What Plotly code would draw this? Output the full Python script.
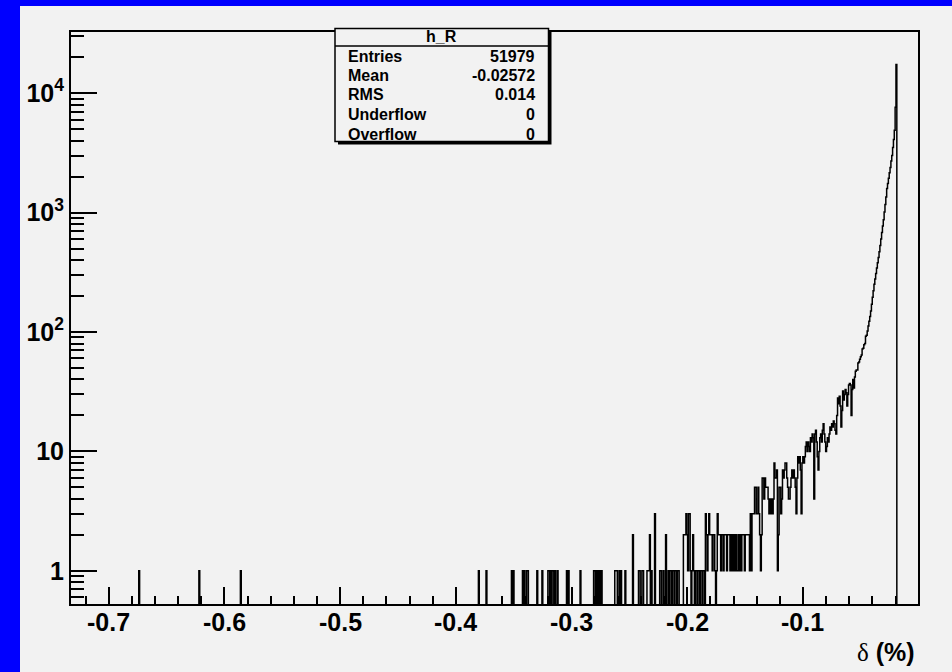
import numpy as np
import plotly.graph_objects as go

# ---------------- histogram definition (h_R) ----------------
x_min = -0.7326
x_max = -0.0006
n_bins = 1000

# isolated low-count bins on the left: (delta value, entries)
sparse_delta = [-0.6738, -0.6216, -0.5856, -0.3798, -0.3737, -0.3517, -0.3504,
                -0.3418, -0.3405, -0.3387, -0.3374, -0.3297, -0.3256, -0.3201,
                -0.3193, -0.3180, -0.3167, -0.3154, -0.3141, -0.3118, -0.3037,
                -0.3029, -0.2925, -0.2804, -0.2795, -0.2782, -0.2769, -0.2756,
                -0.2743, -0.2622, -0.2614, -0.2605, -0.2588, -0.2570, -0.2536,
                -0.2467, -0.2415, -0.2407, -0.2390, -0.2381, -0.2346, -0.2338,
                -0.2329, -0.2320, -0.2311, -0.2277, -0.2234, -0.2225, -0.2208,
                -0.2182]
sparse_counts = [1, 1, 1, 1, 1, 1, 1,
                 1, 1, 1, 1, 1, 1, 1,
                 1, 1, 1, 1, 1, 1, 1,
                 1, 1, 1, 1, 1, 1, 1,
                 1, 1, 1, 1, 1, 1, 1,
                 2, 1, 1, 1, 1, 1, 1,
                 1, 2, 1, 3, 1, 1, 1,
                 2]

# consecutive bin contents of the tail, starting at delta = tail_start
tail_start = -0.2165
tail_counts = [
    1, 0, 1, 1, 0, 1, 1, 0, 1, 1, 0, 1, 1, 0, 0, 0, 0, 0,
    2, 2, 2, 3, 2, 1, 3, 3,
    1, 0, 1, 2, 1, 0, 1, 1, 0, 1, 1, 0, 1, 1, 0, 1, 1, 0,
    3, 2, 1, 2, 3, 2, 2, 2, 1, 2, 2, 1, 0, 1, 3, 2, 2, 2, 1, 2,
    2, 1, 2, 2, 2, 1, 2, 2, 2, 1, 2, 1, 2, 1, 2, 1, 2, 1, 1, 2, 1, 2, 1, 2, 2, 2, 1, 2, 2, 2, 2, 2, 1,
    3, 1, 3, 3, 3, 5, 5, 3, 3, 5, 3, 2, 1, 2,
    6, 6, 4, 6, 5, 5, 5, 4, 3, 4, 3, 4, 3, 4, 8, 6, 6, 7, 1, 2,
    5, 5, 3, 4, 7, 6, 7, 8, 8, 6, 5, 4,
    4, 5, 6, 7, 6, 7, 6, 5, 3, 6, 9, 8, 9, 7, 3, 8, 9, 8,
    9, 11, 12, 10, 12, 11, 10, 13, 12, 14, 13, 4, 14, 15, 12, 9, 7, 10,
    13, 14, 12, 15, 17, 14, 12, 10, 11, 13, 12, 14, 16, 15, 17, 16, 18, 17,
    15, 14, 20, 28, 25, 29, 24, 16, 22, 32, 27, 30, 33, 31, 24, 30, 36, 37,
    36, 20, 33, 40, 34, 42, 47, 48, 48, 55, 56, 59, 62, 64, 72, 73, 78, 80,
    92, 94, 102, 112, 123, 135, 150, 171, 195, 221, 251, 278, 309, 343, 380,
    420, 470, 530, 600, 680, 770, 870, 1010, 1170, 1350, 1590, 1750, 1940,
    2150, 2380, 2700, 3000, 3500, 4100, 4900, 7600, 17400,
]

# axis tick labels
x_tickvals = [-0.7, -0.6, -0.5, -0.4, -0.3, -0.2, -0.1]
x_ticktext = ["-0.7", "-0.6", "-0.5", "-0.4", "-0.3", "-0.2", "-0.1"]
y_tickvals = [1, 10, 100, 1000, 10000]
y_ticktext = ["1", "10", "10<sup>2</sup>", "10<sup>3</sup>", "10<sup>4</sup>"]
x_title = '<span style="font-family:\'Liberation Serif\';font-weight:normal">δ</span> <b>(%)</b>'

# statistics box
stat_title = "h_R"
stat_labels = ["Entries", "Mean", "RMS", "Underflow", "Overflow"]
stat_values = ["51979", "-0.02572", "0.014", "0", "0"]

# ---------------- build histogram ----------------
w = (x_max - x_min) / n_bins
counts = np.zeros(n_bins)
for d, c in zip(sparse_delta, sparse_counts):
    counts[int((d - x_min) / w)] += c
i0 = int(round((tail_start - x_min) / w))
counts[i0:i0 + len(tail_counts)] = tail_counts

edges = x_min + w * np.arange(n_bins + 1)
yplot = np.where(counts > 0, counts, 1e-3)
xs = edges
ys = np.append(yplot, yplot[-1])

# ---------------- geometry helpers ----------------
W, H = 952, 672
L, R, T, B = 71, 918, 32, 604
def fx(px):
    return (px - L) / (R - L)
def fy(py):
    return (B - py) / (B - T)

BG = "#f2f2f2"
FONT = "Liberation Sans"
TICKFONT = dict(family=FONT, size=25, color="black", weight="bold")
STATFONT = dict(family=FONT, size=16, color="black", weight="bold")

fig = go.Figure()
fig.add_trace(go.Scatter(x=xs, y=ys, mode="lines",
                         line=dict(color="black", width=1.5, shape="hv"),
                         hoverinfo="skip", showlegend=False))

minor_y = [m * 10.0 ** k for k in range(-1, 5) for m in range(2, 10)]

fig.update_layout(
    width=W, height=H, autosize=False,
    margin=dict(l=L, r=W - R, t=T, b=H - B, pad=0),
    paper_bgcolor="#0000ff", plot_bgcolor=BG,
    showlegend=False,
    xaxis=dict(range=[x_min, x_max], showgrid=False, zeroline=False,
               showline=True, mirror=True, linecolor="black", linewidth=2,
               ticks="inside", ticklen=17, tickwidth=1.5, tickcolor="black",
               tickvals=x_tickvals, showticklabels=False,
               minor=dict(ticks="inside", ticklen=8, tickwidth=1.5, tickcolor="black",
                          dtick=0.02, tick0=0.0)),
    yaxis=dict(type="log", range=[-0.278, 4.512], showgrid=False, zeroline=False,
               showline=True, mirror=True, linecolor="black", linewidth=2,
               ticks="inside", ticklen=26, tickwidth=1.5, tickcolor="black",
               tickvals=y_tickvals, ticktext=y_ticktext,
               tickfont=TICKFONT,
               ticklabelstandoff=0,
               minor=dict(ticks="inside", ticklen=13, tickwidth=1.5, tickcolor="black",
                          tickvals=minor_y)),
)

shapes = [
    # gray canvas leaving blue band on left and top
    dict(type="rect", xref="paper", yref="paper", layer="below",
         x0=fx(20), x1=fx(970), y0=fy(690), y1=fy(6),
         fillcolor=BG, line=dict(width=0)),
    # stats box shadow
    dict(type="rect", xref="paper", yref="paper", layer="above",
         x0=fx(338), x1=fx(551.5), y0=fy(144.5), y1=fy(31.5),
         fillcolor="black", line=dict(width=0)),
    # stats box
    dict(type="rect", xref="paper", yref="paper", layer="above",
         x0=fx(335), x1=fx(548.5), y0=fy(141.5), y1=fy(28.5),
         fillcolor=BG, line=dict(color="black", width=1.5)),
    dict(type="line", xref="paper", yref="paper", layer="above",
         x0=fx(335), x1=fx(548.5), y0=fy(46), y1=fy(46),
         line=dict(color="black", width=1.5)),
]

annotations = [
    dict(text=stat_title, xref="paper", yref="paper", x=fx(441.7), y=fy(36.5),
         xanchor="center", yanchor="middle", showarrow=False, font=STATFONT),
    dict(text=x_title, xref="paper", yref="paper", x=fx(917), y=fy(652),
         xanchor="right", yanchor="middle", showarrow=False,
         font=dict(family=FONT, size=25, color="black")),
]
# x tick labels placed at the tick values through the x scale
for tv, tt in zip(x_tickvals, x_ticktext):
    annotations.append(dict(text=tt, xref="x", yref="paper", x=tv, y=fy(622),
                            xanchor="center", yanchor="middle", showarrow=False,
                            font=TICKFONT))
row_y = [56, 75.5, 95, 114.5, 134]
for lab, val, ry in zip(stat_labels, stat_values, row_y):
    annotations.append(dict(text=lab, xref="paper", yref="paper", x=fx(346), y=fy(ry),
                            xanchor="left", yanchor="middle", showarrow=False, font=STATFONT))
    annotations.append(dict(text=val, xref="paper", yref="paper", x=fx(537), y=fy(ry),
                            xanchor="right", yanchor="middle", showarrow=False, font=STATFONT))

fig.update_layout(shapes=shapes, annotations=annotations)
fig.write_html("out.html", config={"displayModeBar": False})

# remove the browser's default page margin so the figure sits at the window origin
with open("out.html", "r", encoding="utf-8") as f:
    html = f.read()
html = html.replace("<head>", "<head><style>html,body{margin:0;padding:0;overflow:hidden;}</style>", 1)
with open("out.html", "w", encoding="utf-8") as f:
    f.write(html)
